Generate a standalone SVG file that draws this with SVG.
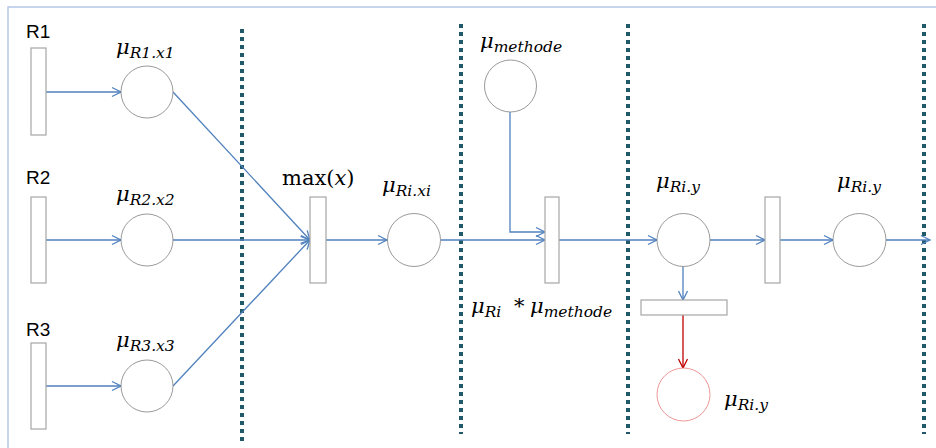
<svg xmlns="http://www.w3.org/2000/svg" width="936" height="448" viewBox="0 0 936 448">
<defs>
<style>
.frame{fill:none;stroke:#b4c7e7;stroke-width:1.5}
.sep{stroke:#215968;stroke-width:4;stroke-dasharray:4 4}
.tr{fill:#fff;stroke:#a6a6a6;stroke-width:1.2}
.pl{fill:#fff;stroke:#7f7f7f;stroke-width:0.8}
.plr{fill:#fff;stroke:#e77c7c;stroke-width:0.8}
.arc{fill:none;stroke:#4f81bd;stroke-width:1.3;marker-end:url(#ab)}
.arcr{fill:none;stroke:#c00000;stroke-width:1.3;marker-end:url(#ar)}
.lbl{font-family:"Liberation Sans",Arial,sans-serif;font-size:19px;fill:#000}
.m{font-family:"DejaVu Serif","Liberation Serif",serif;font-style:italic;font-size:21px;fill:#000}
.s{font-size:15.5px}
.up{font-family:"DejaVu Serif","Liberation Serif",serif;font-size:21px;fill:#000}
</style>
<marker id="ab" markerUnits="userSpaceOnUse" markerWidth="12" markerHeight="12" viewBox="0 0 12 12" refX="10" refY="6" orient="auto">
<path d="M1,1.5 L10,6 L1,10.5" fill="none" stroke="#4f81bd" stroke-width="1.3"/>
</marker>
<marker id="ar" markerUnits="userSpaceOnUse" markerWidth="12" markerHeight="12" viewBox="0 0 12 12" refX="10" refY="6" orient="auto">
<path d="M1,1.5 L10,6 L1,10.5" fill="none" stroke="#c00000" stroke-width="1.3"/>
</marker>
</defs>
<rect width="936" height="448" fill="#fff"/>
<path class="frame" d="M8,448 V7 H936"/>
<g id="separators">
<line class="sep" x1="242" y1="29" x2="242" y2="442"/>
<line class="sep" x1="461" y1="24" x2="461" y2="434"/>
<line class="sep" x1="628" y1="24" x2="628" y2="434"/>
<line class="sep" x1="924" y1="24" x2="924" y2="434"/>
</g>
<g id="connectors">
<path class="arc" d="M46,92 H121"/>
<path class="arc" d="M46,240 H121"/>
<path class="arc" d="M46,386 H121"/>
<path class="arc" d="M173,92 L310,240"/>
<path class="arc" d="M173,240 H310"/>
<path class="arc" d="M173,386 L310,240"/>
<path class="arc" d="M326,240 H387"/>
<path class="arc" d="M441,240 H545"/>
<path class="arc" d="M510,112 V232 H545"/>
<path class="arc" d="M559,240 H657"/>
<path class="arc" d="M710,240 H765"/>
<path class="arc" d="M780,240 H833"/>
<path class="arc" d="M886,240 H930"/>
<path class="arc" d="M683,266 V300"/>
<path class="arcr" d="M683,315 V368"/>
</g>
<g id="R1"><rect class="tr" x="31" y="48" width="15" height="87"/><text class="lbl" x="26" y="38">R1</text></g>
<g id="R2"><rect class="tr" x="31" y="197" width="15" height="86"/><text class="lbl" x="26" y="184">R2</text></g>
<g id="R3"><rect class="tr" x="31" y="343" width="15" height="86"/><text class="lbl" x="26" y="336">R3</text></g>
<g id="muR1"><circle class="pl" cx="147" cy="92" r="26"/><text class="m" x="116" y="54">μ<tspan class="s" dy="4">R1.x1</tspan></text></g>
<g id="muR2"><circle class="pl" cx="147" cy="240" r="26"/><text class="m" x="116" y="201">μ<tspan class="s" dy="4">R2.x2</tspan></text></g>
<g id="muR3"><circle class="pl" cx="147" cy="386" r="26"/><text class="m" x="116" y="347">μ<tspan class="s" dy="4">R3.x3</tspan></text></g>
<g id="max"><rect class="tr" x="310" y="197" width="16" height="86"/><text class="up" x="282" y="185">max(<tspan font-style="italic">x</tspan>)</text></g>
<g id="muRixi"><circle class="pl" cx="414" cy="240" r="26.5"/><text class="m" x="382" y="192">μ<tspan class="s" dy="4">Ri.xi</tspan></text></g>
<g id="mumethode"><circle class="pl" cx="510.5" cy="86" r="26"/><text class="m" x="480" y="48">μ<tspan class="s" dy="4">methode</tspan></text></g>
<g id="product"><rect class="tr" x="545" y="197" width="14" height="86"/><text class="m" x="471" y="313">μ<tspan class="s" dy="4">Ri</tspan><tspan dy="-4" font-style="normal" x="514">*</tspan><tspan x="530">μ</tspan><tspan class="s" dy="4">methode</tspan></text></g>
<g id="muRiy1"><circle class="pl" cx="683.5" cy="240" r="26.5"/><text class="m" x="656" y="188">μ<tspan class="s" dy="4">Ri.y</tspan></text></g>
<g id="t3"><rect class="tr" x="765" y="197" width="15" height="86"/></g>
<g id="muRiy2"><circle class="pl" cx="859.5" cy="240" r="26.5"/><text class="m" x="837" y="188">μ<tspan class="s" dy="4">Ri.y</tspan></text></g>
<g id="t4"><rect class="tr" x="641" y="300" width="86" height="15"/></g>
<g id="muRiy3"><circle class="plr" cx="683.5" cy="394.5" r="26.5"/><text class="m" x="724" y="406">μ<tspan class="s" dy="4">Ri.y</tspan></text></g>
</svg>
